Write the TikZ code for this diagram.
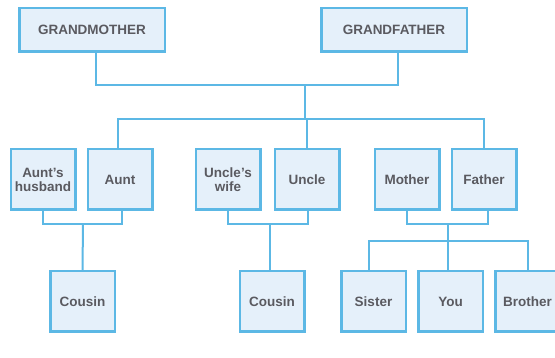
\documentclass[tikz,border=0pt]{standalone}
\usepackage{fontspec}
\setmainfont{Liberation Sans}
\usetikzlibrary{
  positioning,
  calc,
}
\definecolor{boxblue}{RGB}{92,184,229}
\definecolor{boxfill}{RGB}{229,240,250}
\definecolor{labelgray}{RGB}{90,90,96}
\tikzset{
  node distance= 10pt and 10pt,
  member/.style={
    rectangle,
    draw=boxblue,
    fill=boxfill,
    line width=2.5pt,
    minimum width=64.5pt,
    minimum height=60.5pt,
    inner sep=1pt,
    align=center,
    text=labelgray,
    font=\bfseries\fontsize{13.5}{14}\selectfont,
  },
  elder/.style={
    member,
    minimum width=145.5pt,
    minimum height=43.5pt,
  },
  branch/.style={
    draw=boxblue,
    line width=2pt,
  },
}

\begin{document}
\begin{tikzpicture}[x=1pt, y=-1pt]
  \path[fill=white, use as bounding box] (0,0) rectangle (555,358);

  \node[elder] (grandmother) at (92,30)  {GRANDMOTHER};
  \node[elder] (grandfather) at (394,30) {GRANDFATHER};

  \node[member]                     (aunt)         at (120,179.5) {Aunt};
  \node[member, left=of aunt]       (auntshusband)                {Aunt's\\husband};
  \node[member]                     (uncle)        at (307,179.5) {Uncle};
  \node[member, left=12pt of uncle] (uncleswife)                  {Uncle's\\wife};
  \node[member]                     (father)       at (484,179.5) {Father};
  \node[member, left=of father]     (mother)                      {Mother};

  \node[member]                     (cousinA)      at (82.5,301.5)  {Cousin};
  \node[member]                     (cousinB)      at (272,301.5)   {Cousin};
  \node[member]                     (you)          at (450.5,301.5) {You};
  \node[member, left=of you]        (sister)                        {Sister};
  \node[member, right=of you]       (brother)                       {Brother};

  \coordinate (elders)      at (305,85);
  \coordinate (children)    at (305,119);
  \coordinate (auntfamily)  at (83,224);
  \coordinate (unclefamily) at (270,224);
  \coordinate (parents)     at (448,224);
  \coordinate (siblings)    at (448,241);

  \draw[branch] ([xshift=4pt]grandmother.south) |- (elders) -| ([xshift=4pt]grandfather.south);
  \draw[branch] (elders) -- (children);
  \draw[branch] ([xshift=-2pt]aunt.north) |- (children) -| (father.north);
  \draw[branch] (uncle.north) -- (uncle.north |- children);

  \draw[branch] (auntshusband.south) |- (auntfamily) -| ([xshift=2pt]aunt.south);
  \draw[branch] (auntfamily) -- (cousinA.north);
  \draw[branch] (uncleswife.south) |- (unclefamily) -| ([xshift=1pt]uncle.south);
  \draw[branch] (unclefamily) -- (unclefamily |- cousinB.north);
  \draw[branch] (mother.south) |- (parents) -| ([xshift=4pt]father.south);
  \draw[branch] (parents) -- (parents |- you.north);
  \draw[branch] ([xshift=-5pt]sister.north) |- (siblings) -| (brother.north);
\end{tikzpicture}
\end{document}
